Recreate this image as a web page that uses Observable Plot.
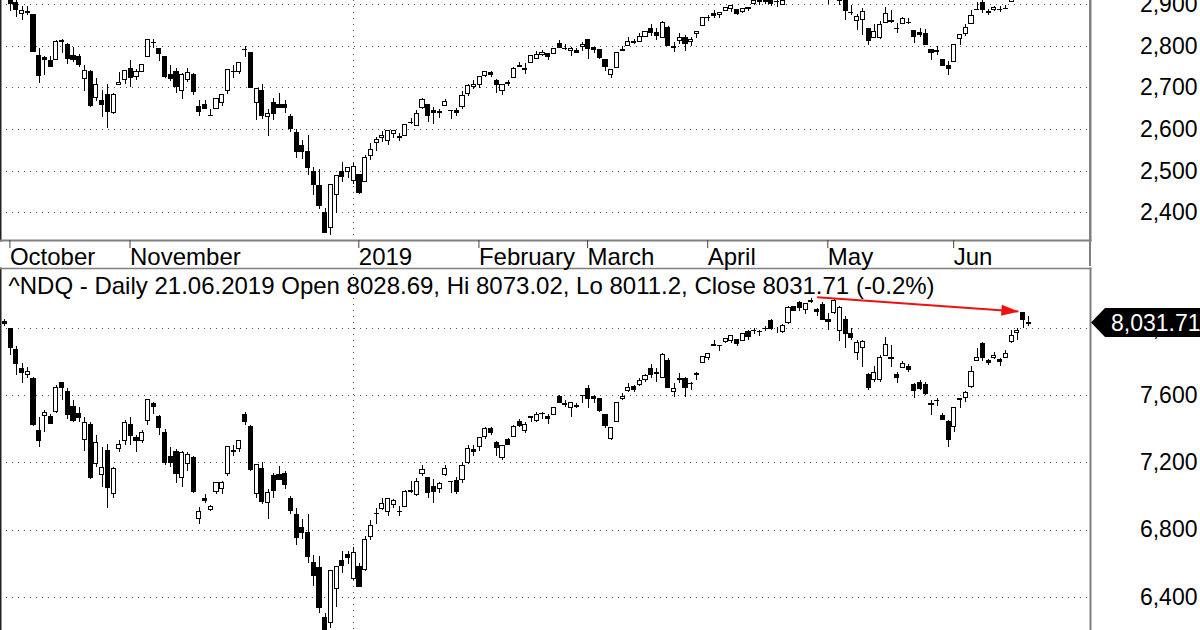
<!DOCTYPE html>
<html><head><meta charset="utf-8">
<script src="https://cdn.jsdelivr.net/npm/d3@7"></script>
<script src="https://cdn.jsdelivr.net/npm/@observablehq/plot@0.6"></script>
<style>
html,body{margin:0;padding:0;background:#fff;}
#chart{width:1200px;height:630px;overflow:hidden;position:relative;font-family:"Liberation Sans",Arial,sans-serif;background:#fff;}
#chart svg{display:block;position:absolute;left:0;}
</style></head><body><div id="chart"></div>
<script>
const dates = [
"2018-10-03","2018-10-04","2018-10-05","2018-10-08","2018-10-09","2018-10-10","2018-10-11","2018-10-12","2018-10-15","2018-10-16","2018-10-17","2018-10-18","2018-10-19","2018-10-22","2018-10-23","2018-10-24","2018-10-25","2018-10-26","2018-10-29","2018-10-30","2018-10-31",
"2018-11-01","2018-11-02","2018-11-05","2018-11-06","2018-11-07","2018-11-08","2018-11-09","2018-11-12","2018-11-13","2018-11-14","2018-11-15","2018-11-16","2018-11-19","2018-11-20","2018-11-21","2018-11-23","2018-11-26","2018-11-27","2018-11-28","2018-11-29","2018-11-30",
"2018-12-03","2018-12-04","2018-12-06","2018-12-07","2018-12-10","2018-12-11","2018-12-12","2018-12-13","2018-12-14","2018-12-17","2018-12-18","2018-12-19","2018-12-20","2018-12-21","2018-12-24","2018-12-26","2018-12-27","2018-12-28","2018-12-31",
"2019-01-02","2019-01-03","2019-01-04","2019-01-07","2019-01-08","2019-01-09","2019-01-10","2019-01-11","2019-01-14","2019-01-15","2019-01-16","2019-01-17","2019-01-18","2019-01-22","2019-01-23","2019-01-24","2019-01-25","2019-01-28","2019-01-29","2019-01-30","2019-01-31",
"2019-02-01","2019-02-04","2019-02-05","2019-02-06","2019-02-07","2019-02-08","2019-02-11","2019-02-12","2019-02-13","2019-02-14","2019-02-15","2019-02-19","2019-02-20","2019-02-21","2019-02-22","2019-02-25","2019-02-26","2019-02-27","2019-02-28",
"2019-03-01","2019-03-04","2019-03-05","2019-03-06","2019-03-07","2019-03-08","2019-03-11","2019-03-12","2019-03-13","2019-03-14","2019-03-15","2019-03-18","2019-03-19","2019-03-20","2019-03-21","2019-03-22","2019-03-25","2019-03-26","2019-03-27","2019-03-28","2019-03-29",
"2019-04-01","2019-04-02","2019-04-03","2019-04-04","2019-04-05","2019-04-08","2019-04-09","2019-04-10","2019-04-11","2019-04-12","2019-04-15","2019-04-16","2019-04-17","2019-04-18","2019-04-22","2019-04-23","2019-04-24","2019-04-25","2019-04-26","2019-04-29","2019-04-30",
"2019-05-01","2019-05-02","2019-05-03","2019-05-06","2019-05-07","2019-05-08","2019-05-09","2019-05-10","2019-05-13","2019-05-14","2019-05-15","2019-05-16","2019-05-17","2019-05-20","2019-05-21","2019-05-22","2019-05-23","2019-05-24","2019-05-28","2019-05-29","2019-05-30","2019-05-31",
"2019-06-03","2019-06-04","2019-06-05","2019-06-06","2019-06-07","2019-06-10","2019-06-11","2019-06-12","2019-06-13","2019-06-14","2019-06-17","2019-06-18","2019-06-19","2019-06-20","2019-06-21"];

// S&P 500 (upper pane): [open, high, low, close]
const spx = [
[2931.7,2939.9,2921.4,2925.5],[2919.4,2919.8,2883.9,2901.6],[2902.5,2909.6,2869.3,2885.6],[2877.5,2894.8,2862.0,2884.4],[2882.5,2894.8,2874.3,2880.3],[2873.9,2874.0,2784.9,2785.7],[2776.9,2795.1,2710.5,2728.4],[2770.5,2775.8,2729.4,2767.1],[2763.8,2775.9,2749.0,2750.8],[2767.1,2813.5,2766.9,2809.9],[2811.7,2816.9,2781.8,2809.2],[2802.0,2806.0,2755.2,2768.8],[2775.7,2797.8,2760.3,2767.8],[2773.9,2778.9,2749.2,2755.9],[2721.0,2753.6,2691.4,2740.7],[2737.9,2742.6,2651.9,2656.1],[2674.9,2722.7,2667.8,2705.6],[2667.9,2692.4,2628.2,2658.7],[2682.6,2706.9,2603.5,2641.3],[2640.7,2685.4,2635.3,2682.6],[2705.6,2736.7,2705.6,2711.7],
[2717.6,2741.7,2708.9,2740.4],[2745.5,2766.3,2700.0,2723.1],[2726.4,2744.3,2717.9,2738.3],[2738.4,2756.8,2737.1,2755.5],[2774.1,2815.2,2774.1,2813.9],[2806.4,2814.8,2794.9,2806.8],[2794.1,2794.1,2764.2,2781.0],[2773.9,2775.9,2722.0,2726.2],[2730.1,2754.6,2714.9,2722.2],[2737.9,2746.8,2685.8,2701.6],[2693.5,2735.4,2670.8,2730.2],[2718.5,2746.8,2712.2,2736.3],[2730.7,2733.2,2681.1,2690.7],[2654.6,2669.4,2631.5,2641.9],[2657.7,2670.7,2649.8,2649.9],[2633.4,2647.6,2631.1,2632.6],[2650.0,2674.4,2650.0,2673.5],[2663.8,2682.5,2655.9,2682.2],[2691.5,2744.0,2684.4,2743.8],[2737.0,2753.8,2722.9,2737.8],[2737.8,2760.9,2732.8,2760.2],
[2790.5,2800.2,2773.4,2790.4],[2782.4,2785.9,2697.2,2700.1],[2663.5,2696.1,2621.5,2696.0],[2691.3,2708.5,2623.1,2633.1],[2630.9,2647.5,2583.2,2637.7],[2664.4,2674.4,2621.3,2636.8],[2658.2,2685.4,2650.3,2651.1],[2658.7,2670.2,2637.3,2650.5],[2629.7,2635.1,2593.8,2600.0],[2590.8,2601.1,2530.5,2545.9],[2559.9,2574.0,2528.7,2546.2],[2547.1,2585.3,2489.0,2507.0],[2496.8,2509.6,2441.2,2467.4],[2465.4,2504.4,2408.6,2416.6],[2400.6,2410.3,2351.1,2351.1],[2363.1,2467.8,2346.6,2467.7],[2442.5,2489.1,2397.9,2488.8],[2498.8,2520.3,2472.9,2485.7],[2498.9,2509.2,2482.8,2506.9],
[2477.0,2519.5,2467.5,2510.0],[2491.9,2493.1,2444.0,2447.9],[2474.3,2538.1,2474.3,2531.9],[2535.6,2566.2,2524.6,2549.7],[2568.1,2579.8,2547.6,2574.4],[2580.0,2595.3,2568.9,2585.0],[2573.5,2597.8,2562.0,2596.6],[2588.1,2596.3,2577.4,2596.3],[2580.3,2589.3,2570.4,2582.6],[2585.1,2613.1,2585.1,2610.3],[2614.8,2625.8,2612.7,2616.1],[2609.3,2645.1,2606.4,2636.0],[2651.3,2675.5,2647.6,2670.7],[2657.9,2657.9,2617.3,2632.9],[2643.5,2653.2,2612.9,2638.7],[2638.8,2647.2,2627.0,2642.3],[2657.4,2672.4,2657.3,2664.8],[2645.0,2645.0,2624.1,2643.9],[2644.9,2650.9,2631.1,2640.0],[2653.6,2690.4,2648.3,2681.1],[2685.5,2709.0,2678.7,2704.1],
[2702.3,2716.7,2696.9,2706.5],[2706.5,2725.0,2698.8,2724.9],[2728.3,2739.0,2724.0,2737.7],[2735.1,2738.1,2724.2,2731.6],[2717.5,2719.3,2687.3,2706.1],[2692.4,2708.1,2681.8,2707.9],[2712.4,2718.1,2703.8,2709.8],[2722.6,2748.2,2722.6,2744.7],[2750.3,2761.9,2748.6,2753.0],[2743.5,2757.9,2731.2,2745.7],[2760.2,2775.7,2760.2,2775.6],[2769.3,2787.3,2767.3,2779.8],[2779.1,2789.9,2774.1,2784.7],[2780.2,2781.6,2764.6,2774.9],[2780.7,2794.2,2779.1,2792.7],[2804.4,2813.5,2795.0,2796.1],[2792.4,2803.1,2789.5,2793.9],[2787.5,2795.8,2775.1,2792.4],[2788.1,2793.7,2782.5,2784.5],
[2798.2,2808.0,2787.4,2803.7],[2814.4,2816.9,2767.7,2792.8],[2794.4,2796.4,2782.0,2789.7],[2790.3,2790.3,2768.7,2771.5],[2766.5,2767.3,2739.1,2748.9],[2730.8,2744.1,2722.3,2743.1],[2747.6,2784.0,2747.6,2783.3],[2787.3,2798.3,2786.7,2791.5],[2799.8,2821.2,2799.8,2810.9],[2810.4,2815.0,2803.5,2808.5],[2810.8,2830.7,2810.8,2822.5],[2822.6,2835.4,2822.0,2832.9],[2840.8,2852.4,2823.3,2832.6],[2831.3,2843.5,2812.4,2824.2],[2819.7,2860.3,2817.4,2854.9],[2844.5,2846.2,2800.5,2800.7],[2796.0,2809.8,2785.0,2798.4],[2812.7,2829.9,2804.0,2818.5],[2819.7,2825.6,2787.7,2805.4],[2809.4,2819.7,2798.8,2815.4],[2828.3,2836.0,2819.2,2834.4],
[2848.6,2869.4,2848.6,2867.2],[2868.2,2872.9,2858.8,2867.2],[2876.1,2885.3,2865.2,2873.4],[2874.0,2881.3,2867.1,2879.4],[2884.2,2893.2,2883.0,2892.7],[2888.5,2896.0,2880.8,2895.8],[2886.6,2886.9,2873.3,2878.2],[2881.4,2889.7,2879.1,2888.2],[2891.9,2893.4,2882.0,2888.3],[2900.9,2910.5,2898.4,2907.4],[2908.3,2909.6,2896.5,2905.6],[2912.3,2916.1,2900.7,2907.1],[2916.0,2918.0,2895.4,2900.5],[2904.8,2908.5,2891.9,2905.0],[2898.8,2909.5,2896.4,2908.0],[2910.0,2936.3,2908.5,2933.7],[2934.0,2936.8,2926.1,2927.3],[2929.0,2933.1,2912.8,2926.2],[2925.8,2939.9,2917.6,2939.9],[2940.6,2949.5,2939.4,2943.0],[2937.1,2948.2,2924.1,2945.8],
[2952.3,2954.1,2923.4,2923.7],[2922.2,2931.7,2900.5,2917.5],[2929.2,2947.9,2929.2,2945.6],[2908.9,2937.3,2898.2,2932.5],[2913.0,2913.0,2862.6,2884.1],[2879.6,2898.0,2873.3,2879.4],[2859.8,2876.0,2836.4,2870.7],[2863.1,2891.3,2825.4,2881.4],[2840.2,2840.2,2801.4,2811.9],[2820.1,2852.5,2820.1,2834.4],[2820.4,2858.7,2815.1,2851.0],[2855.8,2892.2,2855.8,2876.3],[2858.6,2885.5,2854.2,2859.5],[2841.9,2853.9,2831.3,2840.2],[2854.0,2868.9,2854.0,2864.4],[2856.1,2865.5,2851.1,2856.3],[2836.7,2836.7,2805.5,2822.2],[2832.4,2841.4,2820.2,2826.1],[2830.0,2840.5,2801.6,2802.4],[2790.3,2792.0,2766.1,2783.0],[2786.9,2799.0,2776.7,2788.9],[2766.2,2769.0,2750.5,2752.1],
[2751.5,2763.1,2728.8,2744.5],[2762.6,2804.5,2762.6,2803.3],[2818.1,2827.3,2800.9,2826.2],[2828.5,2852.1,2822.5,2843.5],[2852.9,2885.0,2852.9,2873.3],[2885.8,2904.8,2885.5,2886.7],[2903.3,2910.6,2878.5,2885.7],[2882.7,2888.6,2874.7,2879.8],[2886.2,2895.2,2882.0,2891.6],[2886.8,2894.5,2879.6,2887.0],[2889.8,2897.3,2887.3,2889.7],[2906.7,2930.8,2905.4,2917.8],[2920.6,2931.7,2911.4,2926.5],[2949.6,2958.1,2931.5,2954.2],[2952.7,2964.2,2946.9,2950.5]];

// ^NDQ (lower pane): [open, high, low, close]
const ndq = [
[8040,8055,8010,8025],[7995,8000,7840,7880],[7870,7890,7720,7788],[7760,7790,7670,7736],[7720,7768,7700,7738],[7700,7710,7418,7422],[7390,7470,7290,7329],[7480,7512,7380,7497],[7470,7490,7428,7431],[7505,7660,7495,7645],[7672,7680,7570,7643],[7620,7640,7460,7485],[7531,7570,7440,7449],[7491,7530,7440,7469],[7335,7470,7270,7438],[7425,7440,7100,7108],[7195,7360,7170,7318],[7130,7290,7050,7167],[7270,7310,6925,7050],[7017,7170,6985,7162],[7280,7330,7263,7306],
[7330,7450,7300,7434],[7425,7470,7300,7357],[7350,7365,7262,7329],[7330,7390,7315,7376],[7450,7575,7420,7571],[7552,7560,7490,7531],[7470,7480,7365,7407],[7375,7400,7185,7201],[7235,7290,7170,7200],[7263,7280,7075,7136],[7110,7265,7050,7259],[7190,7260,7150,7248],[7230,7240,7015,7028],[6865,6935,6830,6908],[6985,7010,6960,6972],[6918,6945,6910,6939],[7026,7085,7010,7082],[7041,7090,7010,7082],[7135,7295,7120,7291],[7265,7300,7235,7273],[7280,7335,7260,7331],
[7486,7500,7420,7441],[7410,7420,7150,7158],[7015,7190,6986,7188],[7165,7200,6950,6969],[6959,7040,6860,7020],[7123,7135,6985,7032],[7128,7175,7095,7098],[7135,7150,7040,7070],[6985,7000,6890,6911],[6890,6925,6705,6754],[6810,6860,6745,6784],[6780,6890,6600,6637],[6605,6650,6466,6528],[6575,6640,6305,6333],[6278,6305,6190,6193],[6245,6555,6215,6554],[6450,6585,6340,6579],[6615,6670,6540,6584],[6650,6670,6596,6635],
[6507,6694,6500,6666],[6580,6600,6457,6463],[6560,6760,6555,6739],[6757,6856,6736,6823],[6893,6928,6830,6897],[6923,6990,6914,6957],[6910,6990,6880,6986],[6950,6980,6926,6971],[6908,6940,6880,6906],[6935,7035,6935,7024],[7028,7088,7020,7035],[7010,7108,7000,7085],[7136,7184,7120,7157],[7107,7107,6985,7020],[7058,7100,6960,7026],[7045,7085,7020,7074],[7125,7185,7120,7165],[7087,7090,7015,7086],[7090,7110,7010,7028],[7095,7200,7075,7183],[7200,7300,7190,7282],
[7275,7300,7240,7264],[7295,7350,7270,7348],[7355,7410,7340,7402],[7400,7410,7360,7375],[7320,7325,7240,7288],[7230,7300,7215,7298],[7335,7345,7300,7308],[7355,7420,7355,7415],[7440,7460,7412,7420],[7390,7440,7375,7427],[7468,7478,7440,7472],[7450,7500,7440,7487],[7488,7500,7460,7489],[7475,7485,7430,7460],[7487,7530,7480,7527],[7590,7600,7550,7555],[7545,7570,7530,7549],[7525,7560,7470,7555],[7535,7555,7525,7533],
[7595,7600,7550,7596],[7640,7660,7520,7578],[7590,7600,7550,7577],[7580,7585,7500,7506],[7485,7490,7405,7421],[7340,7410,7330,7408],[7445,7560,7440,7558],[7577,7610,7570,7591],[7625,7670,7620,7643],[7648,7660,7620,7631],[7660,7700,7655,7689],[7695,7725,7680,7715],[7760,7785,7700,7724],[7732,7760,7680,7729],[7707,7850,7700,7839],[7806,7820,7640,7643],[7620,7670,7588,7637],[7700,7730,7670,7692],[7700,7710,7590,7644],[7668,7680,7630,7669],[7725,7735,7690,7729],
[7795,7830,7790,7829],[7825,7850,7810,7849],[7900,7925,7890,7896],[7895,7900,7860,7892],[7920,7940,7910,7939],[7925,7955,7910,7954],[7930,7935,7890,7909],[7925,7968,7920,7964],[7980,7985,7930,7947],[7985,8000,7965,7984],[7980,7990,7950,7976],[7995,8010,7980,7996],[8045,8050,7990,7996],[7998,8005,7970,7998],[7977,8020,7970,8015],[8030,8130,8020,8121],[8125,8130,8100,8102],[8150,8160,8100,8119],[8108,8147,8080,8146],[8155,8176,8150,8162],[8110,8120,8070,8095],
[8140,8155,8048,8050],[8048,8090,7985,8037],[8090,8175,8085,8164],[7985,8130,7920,8123],[8050,8070,7880,7964],[7968,8000,7930,7943],[7855,7925,7810,7911],[7885,7930,7765,7917],[7725,7730,7630,7647],[7690,7770,7680,7735],[7690,7840,7680,7822],[7838,7945,7830,7898],[7826,7900,7765,7816],[7720,7740,7670,7702],[7766,7800,7760,7786],[7770,7785,7740,7751],[7660,7670,7580,7628],[7675,7690,7630,7637],[7660,7680,7600,7607],[7545,7570,7480,7547],[7570,7585,7535,7568],[7480,7495,7450,7453],
[7440,7450,7290,7333],[7410,7530,7380,7527],[7580,7585,7520,7576],[7588,7625,7560,7616],[7650,7770,7640,7742],[7805,7880,7800,7823],[7908,7915,7800,7823],[7805,7815,7780,7793],[7825,7855,7815,7837],[7812,7820,7770,7797],[7825,7870,7820,7845],[7920,7990,7910,7954],[7975,8000,7930,7987],[8090,8095,8000,8052],[8028.69,8073.02,8011.2,8031.71]];

const monthDates  = ["2018-10-03","2018-11-01","2019-01-02","2019-02-01","2019-03-01","2019-04-01","2019-05-01","2019-06-03"];
const monthLabels = ["October","November","2019","February","March","April","May","Jun"];
const yearSeparator = "2019-01-02";
const spTicks = [2400, 2500, 2600, 2700, 2800, 2900];
const nqTicks = [6400, 6800, 7200, 7600, 8000];
const nqTitle = "^NDQ - Daily 21.06.2019 Open 8028.69, Hi 8073.02, Lo 8011.2, Close 8031.71 (-0.2%)";
const arrow = {from: "2019-04-30", fromValue: 8185, to: "2019-06-20", toValue: 8100};

// ---- build ----
const idx = d => dates.indexOf(d);
const rowsOf = s => s.map(([o,h,l,c], i) => ({i, date: dates[i], o, h, l, c}));
const spRows = rowsOf(spx), nqRows = rowsOf(ndq);
const monthIdx = monthDates.map(idx);
const labelMap = new Map(monthIdx.map((m, k) => [m, monthLabels[k]]));
const sepIdx = idx(yearSeparator);
const xDomain = [-0.77, 189.8];
const FONT = '"Liberation Sans", Arial, sans-serif';
const fmt = d3.format(",");
const gridStyle = {stroke: "#222", strokeOpacity: 0.8, strokeDasharray: "1,5", shapeRendering: "crispEdges"};

function candles(rows) {
  return [
    Plot.ruleX(rows, {x: "i", y1: "l", y2: "h", stroke: "#000", strokeWidth: 1, shapeRendering: "crispEdges"}),
    Plot.rect(rows, {x1: d => d.i - 0.36, x2: d => d.i + 0.36, y1: "o", y2: "c",
      fill: d => d.c >= d.o ? "#fff" : "#000", stroke: "#000", strokeWidth: 1, shapeRendering: "crispEdges"})
  ];
}

const botPlot = Plot.plot({
  width: 1200, height: 364, marginTop: 2, marginBottom: 0, marginLeft: 0, marginRight: 110,
  x: {type: "linear", domain: xDomain, axis: null, label: null},
  y: {domain: [6202, 8356], axis: null, label: null},
  color: {type: "identity"},
  style: {fontFamily: FONT, fontSize: "23px", color: "#000", background: "#fff", overflow: "hidden"},
  marks: [
    Plot.ruleY(nqTicks, gridStyle),
    Plot.ruleX([sepIdx], gridStyle),
    ...candles(nqRows),
    Plot.link([arrow], {x1: d => idx(d.from), y1: "fromValue", x2: d => idx(d.to) - 0.8, y2: "toValue",
      stroke: "#ee1111", strokeWidth: 2}),
    Plot.dot([arrow], {x: d => idx(d.to) - 0.8, y: "toValue", fill: "#ee1111", stroke: "none", r: 1, rotate: 4,
      symbol: {draw(ctx) { ctx.moveTo(0, 0); ctx.lineTo(-17, -5.5); ctx.lineTo(-17, 5.5); ctx.closePath(); }}}),
    Plot.text(nqTicks, {y: d => d, text: d => fmt(d), frameAnchor: "right", textAnchor: "end", dx: 107, fontSize: 23, fill: "#000"}),
    Plot.text([nqTitle], {text: d => d, frameAnchor: "top-left", textAnchor: "start", lineAnchor: "top", dx: 8, dy: 8, fontSize: 24, fill: "#000"}),
    Plot.frame({anchor: "right", stroke: "#808080", strokeWidth: 2}),
    Plot.frame({anchor: "left", stroke: "#222", strokeWidth: 2}),
    Plot.frame({anchor: "top", stroke: "#808080", strokeWidth: 1.5})
  ]
});

const topPlot = Plot.plot({
  width: 1200, height: 266, marginTop: 0, marginBottom: 26, marginLeft: 0, marginRight: 110,
  x: {type: "linear", domain: xDomain, axis: null, label: null},
  y: {domain: [2333.5, 2909.6], axis: null, label: null},
  color: {type: "identity"},
  style: {fontFamily: FONT, fontSize: "23px", color: "#000", background: "transparent", overflow: "visible"},
  marks: [
    Plot.ruleY(spTicks, gridStyle),
    Plot.ruleX([sepIdx], gridStyle),
    ...candles(spRows),
    Plot.text(spTicks, {y: d => d, text: d => fmt(d), frameAnchor: "right", textAnchor: "end", dx: 107, fontSize: 23, fill: "#000"}),
    Plot.frame({anchor: "right", stroke: "#808080", strokeWidth: 2}),
    Plot.frame({anchor: "left", stroke: "#222", strokeWidth: 2}),
    Plot.frame({anchor: "bottom", stroke: "#808080", strokeWidth: 2}),
    Plot.axisX(monthIdx, {anchor: "bottom", tickSize: 8, tickPadding: -1, tickFormat: d => labelMap.get(d),
      textAnchor: "start", dx: 5, fontSize: 24, label: null, stroke: "#444", fill: "#000"})
  ]
});

// right axis line continues through the date strip
{
  const xr = topPlot.scale("x").range[1];
  d3.select(topPlot).append("line").attr("x1", xr).attr("x2", xr).attr("y1", 0).attr("y2", 266)
    .attr("stroke", "#808080").attr("stroke-width", 2);
}
// last-close flag on the lower pane
{
  const last = nqRows[nqRows.length - 1];
  const xr = botPlot.scale("x").range[1];
  const yy = botPlot.scale("y").apply(last.c);
  const g = d3.select(botPlot).append("g");
  g.append("path").attr("d", `M${xr + 1},${yy} L${xr + 15},${yy - 14.5} L1200,${yy - 14.5} L1200,${yy + 14.5} L${xr + 15},${yy + 14.5} Z`)
    .attr("fill", "#000");
  g.append("text").attr("x", xr + 21).attr("y", yy).attr("dy", "0.36em").attr("fill", "#fff")
    .attr("text-anchor", "start").style("text-anchor", "start")
    .attr("font-family", FONT).attr("font-size", 23).text(d3.format(",.2f")(last.c));
}

const root = document.getElementById("chart");
botPlot.style.top = "266px";
topPlot.style.top = "0px";
root.appendChild(botPlot);
root.appendChild(topPlot);
</script></body></html>
